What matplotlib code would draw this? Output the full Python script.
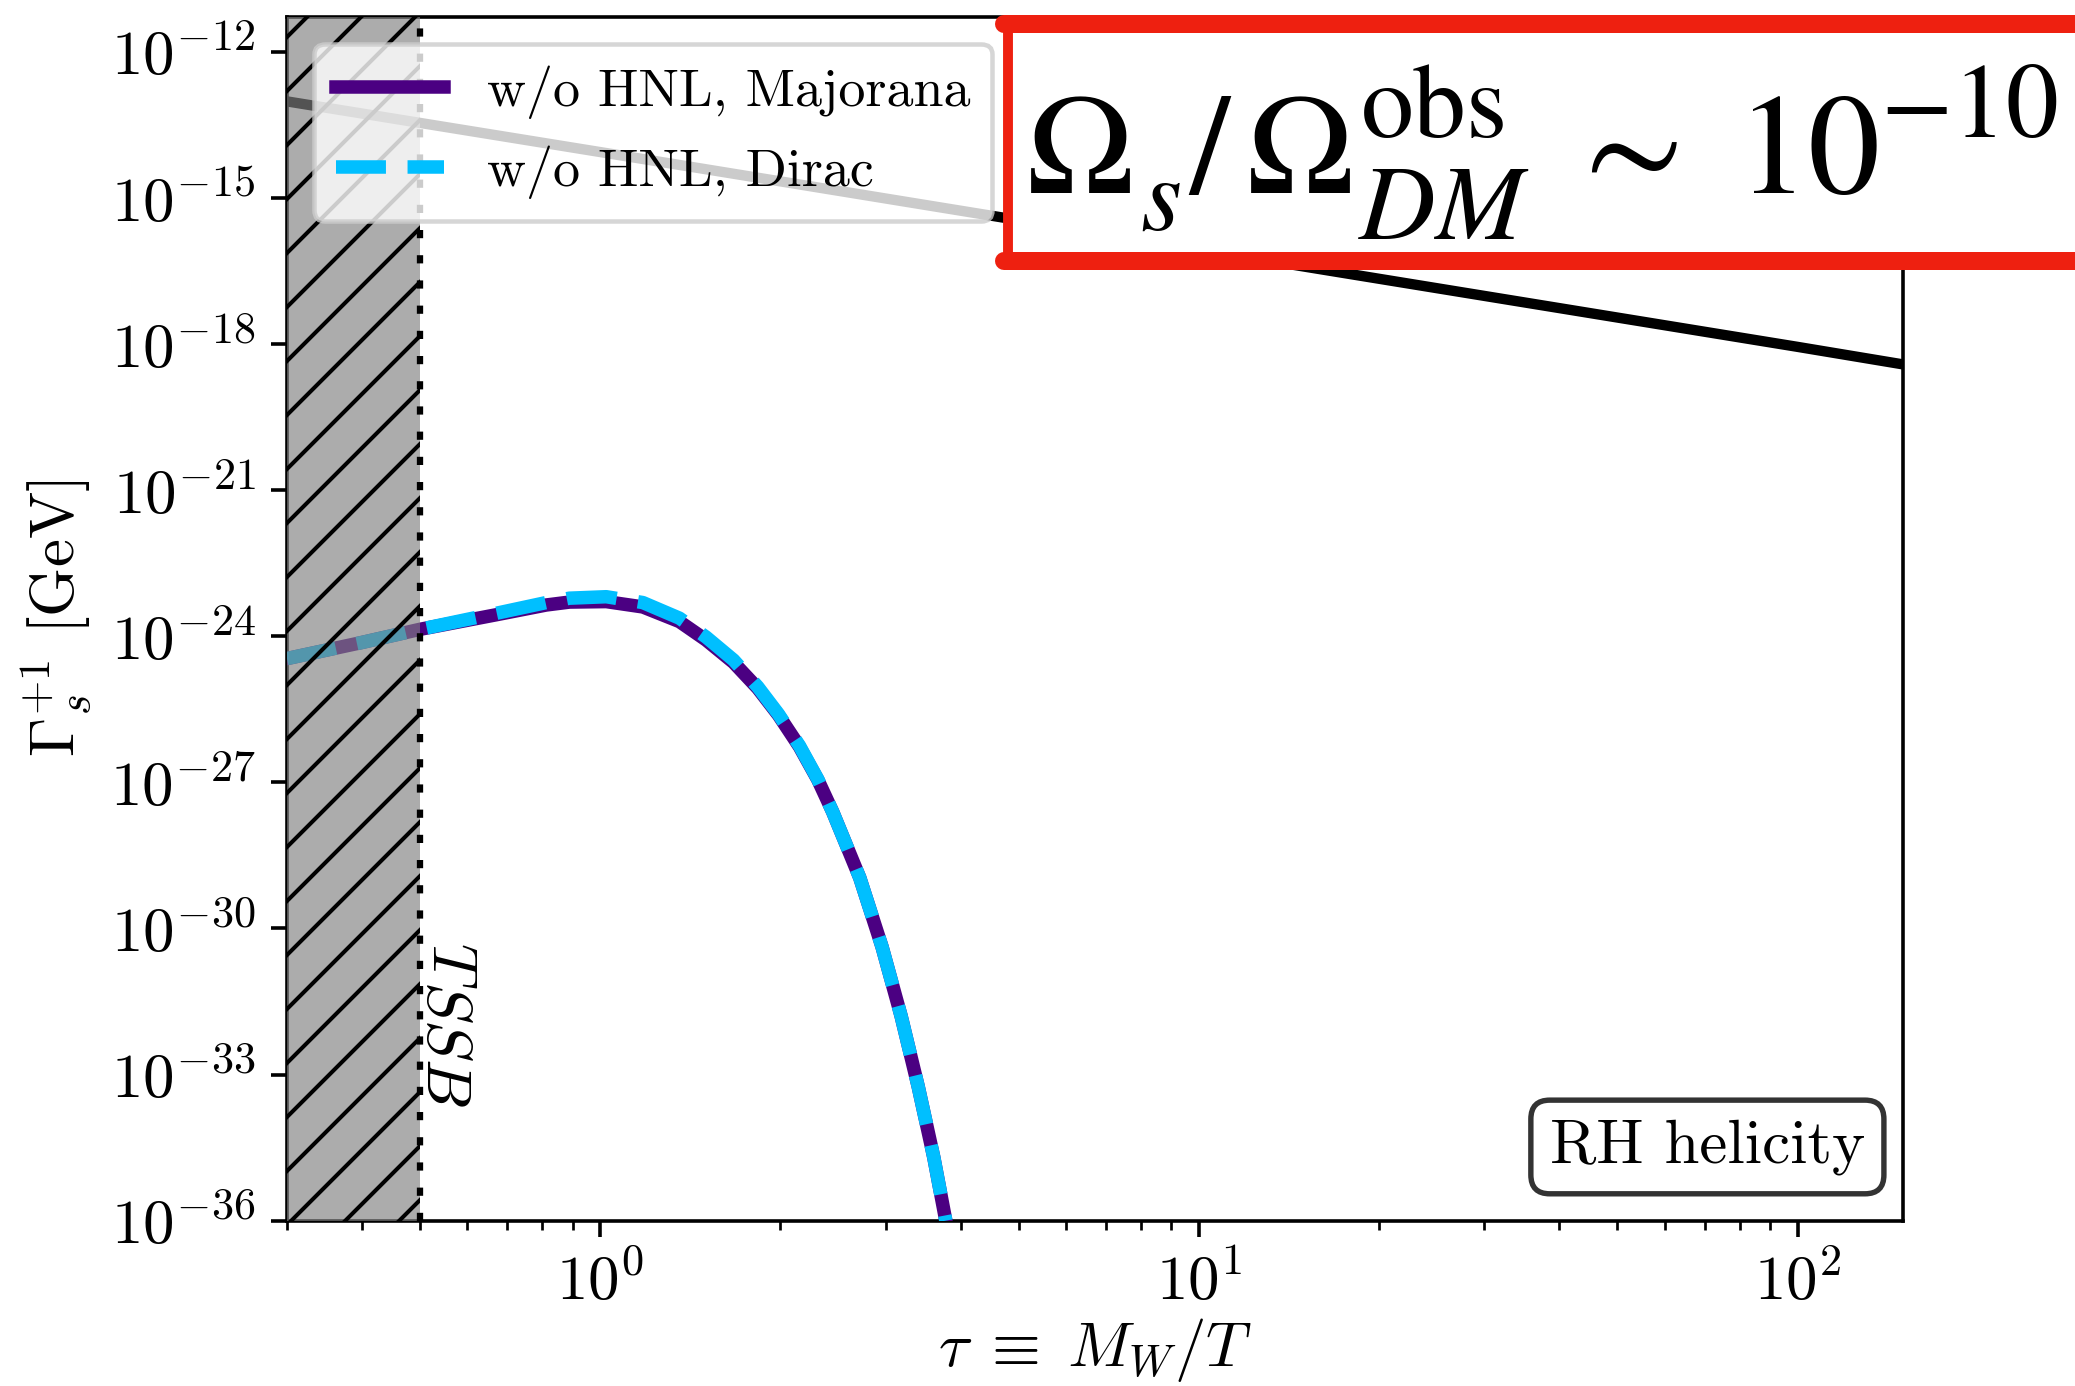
import numpy as np
import matplotlib
matplotlib.use("Agg")
import matplotlib.pyplot as plt
from matplotlib.ticker import NullLocator, FixedLocator
from matplotlib.patches import Rectangle
from matplotlib.lines import Line2D

plt.rcParams.update({
    "font.family": "serif",
    "font.serif": ["cmr10"],
    "mathtext.fontset": "cm",
    "axes.formatter.use_mathtext": True,
    "axes.unicode_minus": False,
    "hatch.linewidth": 0.9,
})

# production rate without HNL, Majorana case (tau, log10 Gamma / GeV)
tau_majorana = [0.3, 0.4, 0.5, 0.671, 0.813, 0.889, 1.024, 1.179, 1.357, 1.504,
                1.671, 1.834, 1.986, 2.153, 2.311, 2.447, 2.715, 2.958, 3.183,
                3.398, 3.609, 3.78]
log_gamma_majorana = [-24.46, -24.13, -23.86, -23.56, -23.36, -23.30, -23.29, -23.40,
                      -23.70, -24.08, -24.54, -25.07, -25.62, -26.27, -26.95, -27.61,
                      -28.96, -30.38, -31.80, -33.24, -34.70, -36.00]

# production rate without HNL, Dirac case
tau_dirac = [0.3, 0.4, 0.5, 0.671, 0.813, 0.889, 1.024, 1.179, 1.357, 1.504,
             1.671, 1.834, 1.986, 2.153, 2.311, 2.447, 2.715, 2.958, 3.183,
             3.398, 3.609, 3.78]
log_gamma_dirac = [-24.46, -24.13, -23.86, -23.53, -23.31, -23.22, -23.19, -23.31,
                   -23.63, -24.02, -24.49, -25.04, -25.60, -26.25, -26.94, -27.61,
                   -28.96, -30.38, -31.80, -33.24, -34.70, -36.00]

# Hubble rate
tau_hubble = [0.3, 1.0, 10.0, 100.0, 150.0]
log_hubble = [-13.02, -14.06, -16.06, -18.06, -18.42]

tau_ssb = 0.5
tau_range = (0.3, 150.0)
log_gamma_range = (-36.0, -11.28)
ytick_exponents = [-12, -15, -18, -21, -24, -27, -30, -33, -36]

W, H, DPI = 2075, 1386, 324
fig = plt.figure(figsize=(W / DPI, H / DPI), dpi=DPI)
ax = fig.add_axes([0.1383, 0.1193, 0.7788, 0.8687])

ax.plot(tau_hubble, 10.0 ** np.array(log_hubble), color="black", lw=2.3, zorder=2)
ax.plot(tau_majorana, 10.0 ** np.array(log_gamma_majorana), color="#4B0082", lw=3,
        label="w/o HNL, Majorana", zorder=3)
ax.plot(tau_dirac, 10.0 ** np.array(log_gamma_dirac), color="#00BFFF", lw=3, ls="--",
        label="w/o HNL, Dirac", zorder=3.1)

# region above the electroweak crossover
ax.axvspan(tau_range[0], tau_ssb, facecolor="gray", alpha=0.65, lw=0, zorder=4)
ax.axvspan(tau_range[0], tau_ssb, facecolor="none", edgecolor="black", hatch="//",
           lw=0, zorder=4.1)
ax.axvline(tau_ssb, color="black", ls=(0, (1.3, 2.7)), lw=1.4, zorder=5)

ax.text(0.0830, 0.2315, r"$T$", transform=ax.transAxes, rotation=270,
        ha="left", va="top", fontsize=14, zorder=6)
ax.text(0.0795, 0.1995, r"$SSB$", transform=ax.transAxes, rotation=270,
        ha="left", va="top", fontsize=14, zorder=6)

ax.set_xscale("log")
ax.set_yscale("log")
ax.set_xlim(*tau_range)
ax.set_ylim(10.0 ** log_gamma_range[0], 10.0 ** log_gamma_range[1])
ax.yaxis.set_major_locator(FixedLocator([10.0 ** e for e in ytick_exponents]))
ax.yaxis.set_minor_locator(NullLocator())
ax.tick_params(axis="both", which="major", labelsize=14)

ax.set_xlabel(r"$\tau \;\equiv\; M_W/T$", fontsize=14)
ax.set_ylabel(r"$\Gamma_s^{+1}$ [GeV]", fontsize=14)
ax.xaxis.set_label_coords(0.5, -0.079)
ax.yaxis.set_label_coords(-0.119, 0.5)

leg = ax.legend(loc="upper left", fontsize=12)
leg.set_zorder(10)

ax.text(0.9765, 0.038, "RH helicity", transform=ax.transAxes, ha="right", va="bottom",
        fontsize=14, zorder=7,
        bbox=dict(boxstyle="round,pad=0.3", facecolor="white", edgecolor="0.2", lw=1.2))

# boxed relic-abundance note along the top edge
red = "#EE2010"
x_left = 1008 / W
y_top = 1 - 24 / H
y_bot = 1 - 261 / H
fig.add_artist(Rectangle((x_left, y_bot), 1.2 - x_left, y_top - y_bot,
                         transform=fig.transFigure, facecolor="white", edgecolor="none",
                         zorder=20, clip_on=False))
for yy in (y_top, y_bot):
    fig.add_artist(Line2D([x_left - 0.002, 1.2], [yy, yy], transform=fig.transFigure,
                          color=red, lw=4, solid_capstyle="round", zorder=21))
fig.add_artist(Line2D([x_left, x_left], [y_bot, y_top], transform=fig.transFigure,
                      color=red, lw=2.2, zorder=21))

# formula set piece by piece: (text, x px, baseline px, size pt)
main_pt, script_pt = 32, 23.5
formula_pieces = [
    (r"$\Omega$", 1026, 193, main_pt),
    (r"$s$", 1140, 230, script_pt),
    (r"$/$", 1188, 193, main_pt),
    (r"$\Omega$", 1246, 193, main_pt),
    (r"$\mathrm{obs}$", 1360, 137, script_pt),
    (r"$DM$", 1358, 239, script_pt),
    (r"$\sim$", 1564, 193, main_pt),
    (r"$10$", 1736, 193, main_pt),
    (r"$-10$", 1880, 137, script_pt),
]
for txt, px, py, size in formula_pieces:
    fig.text(px / W, 1 - py / H, txt, math_fontfamily="stix", fontsize=size,
             ha="left", va="baseline", zorder=22)

fig.savefig("out.png", dpi=DPI)
